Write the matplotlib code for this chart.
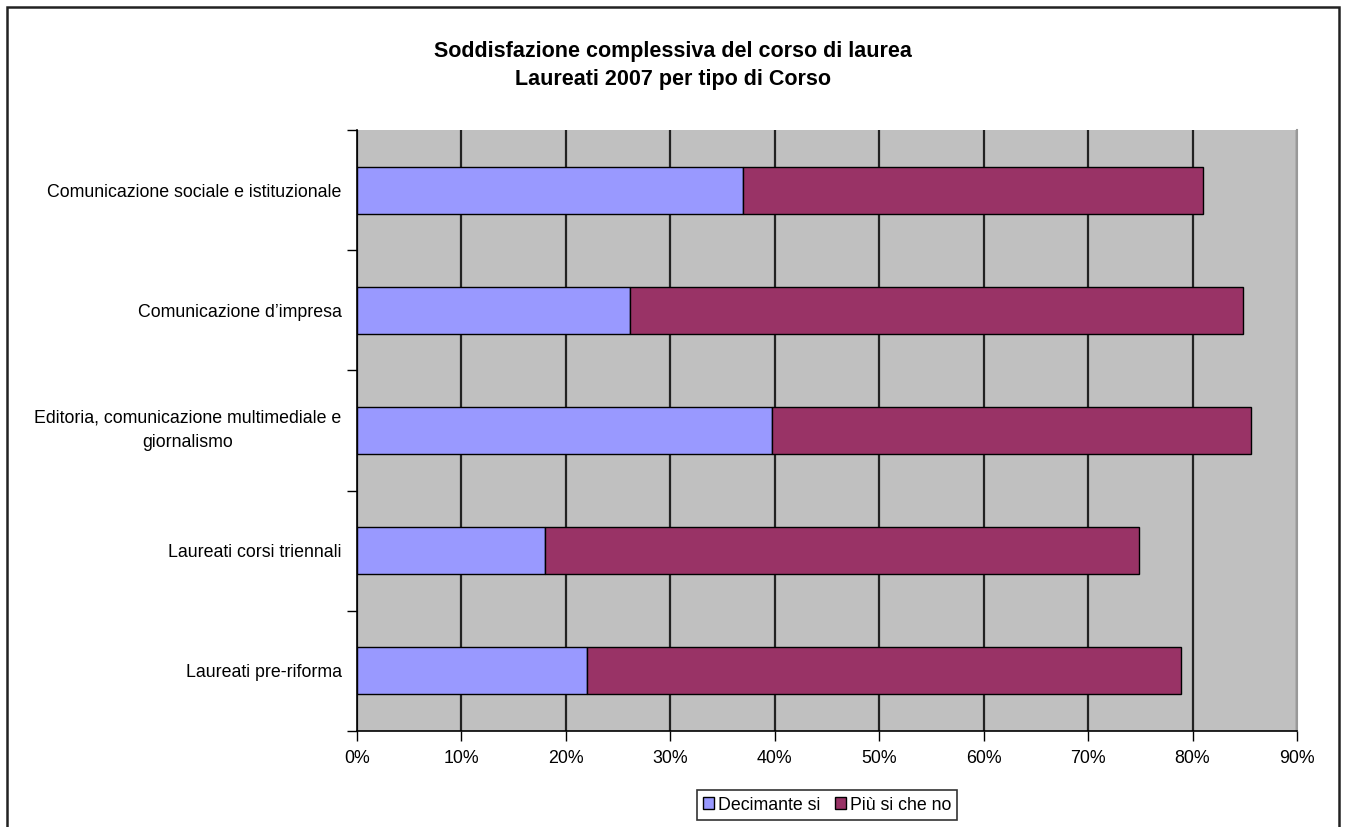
import numpy as np
import matplotlib
matplotlib.use("Agg")
from matplotlib import pyplot as plt
from matplotlib.patches import Rectangle
from matplotlib.ticker import FuncFormatter

plt.rcParams['font.family'] = ['Liberation Sans', 'DejaVu Sans']

# data (percent)
categories = [
    "Comunicazione sociale e istituzionale",
    "Comunicazione d\u2019impresa",
    "Editoria, comunicazione multimediale e\ngiornalismo",
    "Laureati corsi triennali",
    "Laureati pre-riforma",
]
decisamente_si = [37.0, 26.1, 39.7, 18.0, 22.0]
piu_si_che_no = [44.0, 58.7, 45.9, 56.9, 56.9]
series_labels = ["Decimante si", "Pi\u00f9 si che no"]
x_ticks = list(range(0, 91, 10))

fig = plt.figure(figsize=(13.46, 8.27), dpi=100)
ax = fig.add_axes([357 / 1346, 1 - 731 / 827, 940 / 1346, 601 / 827])
ax.set_facecolor("#C0C0C0")

# outer chart border (bottom edge falls outside the picture)
fig.patches.append(Rectangle((7 / 1346, -0.01), 1332 / 1346, 1.01 - 7 / 827,
                             transform=fig.transFigure, fill=False,
                             edgecolor="#222222", linewidth=1.8))

y = np.arange(len(categories))
bar_h = 0.39
ax.barh(y, decisamente_si, height=bar_h, color="#9999FF", edgecolor="black",
        linewidth=1, label=series_labels[0], zorder=3)
ax.barh(y, piu_si_che_no, left=decisamente_si, height=bar_h, color="#993366",
        edgecolor="black", linewidth=1, label=series_labels[1], zorder=3)

ax.set_xlim(0, 90)
ax.set_ylim(len(categories) - 0.5, -0.5)

ax.set_xticks(x_ticks)
ax.xaxis.set_major_formatter(FuncFormatter(lambda v, p: f"{v:.0f}%"))
ax.tick_params(axis="x", direction="out", length=7, width=1, pad=7,
               labelsize=12.8, colors="black")
ax.grid(axis="x", color="#222222", linewidth=1.6, zorder=1)

ax.set_yticks(y)
ax.set_yticklabels(categories, multialignment="center", linespacing=1.55)
for lbl in ax.get_yticklabels():
    if "\n" in lbl.get_text():
        lbl.set_va("center")
ax.set_yticks(np.arange(len(categories) + 1) - 0.5, minor=True)
ax.tick_params(axis="y", which="major", length=0, pad=11, labelsize=12.8)
ax.tick_params(axis="y", which="minor", direction="out", length=7, width=1)

for side in ["left", "bottom"]:
    ax.spines[side].set_color("black")
    ax.spines[side].set_linewidth(1.2)
ax.spines["top"].set_visible(False)
ax.spines["right"].set_color("#999999")
ax.spines["right"].set_linewidth(1.5)

fig.text(673 / 1346, 1 - 51 / 827, "Soddisfazione complessiva del corso di laurea",
         ha="center", va="center", fontsize=15.5, fontweight="bold")
fig.text(673 / 1346, 1 - 80 / 827, "Laureati 2007 per tipo di Corso",
         ha="center", va="center", fontsize=15.5, fontweight="bold")

leg = fig.legend(loc="center", bbox_to_anchor=(827 / 1346, 1 - 805 / 827), ncol=2,
                 fontsize=12.8, frameon=True, fancybox=False, handlelength=0.65,
                 handleheight=0.65, handletextpad=0.2, columnspacing=0.8,
                 borderpad=0.35)
leg.get_frame().set_edgecolor("black")
leg.get_frame().set_linewidth(1.2)

fig.savefig("out.png", dpi=100)
